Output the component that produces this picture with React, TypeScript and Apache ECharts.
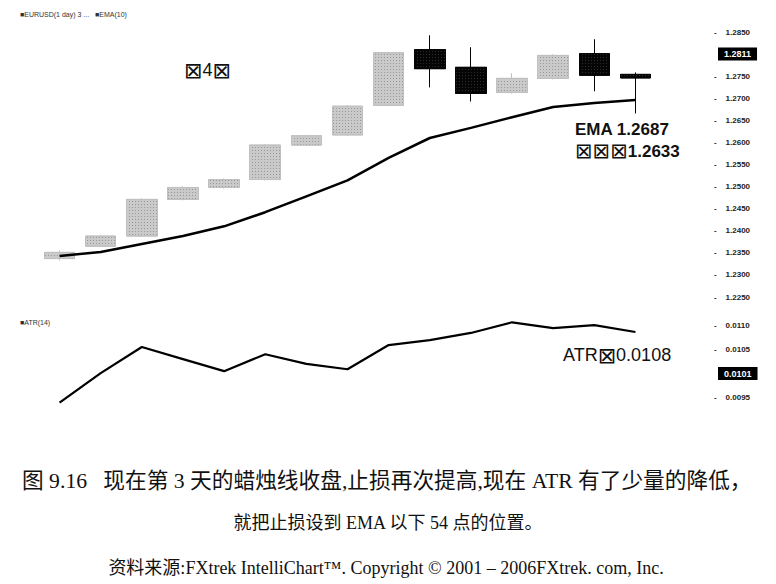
import React, { useEffect, useRef } from "react";
import * as echarts from "echarts";

const days = ["1", "2", "3", "4", "5", "6", "7", "8", "9", "10", "11", "12", "13", "14", "15"];
const opens = [1.2337, 1.2365, 1.2388, 1.2471, 1.2498, 1.2516, 1.2594, 1.2617, 1.2684, 1.2810, 1.2770, 1.2713, 1.2745, 1.2801, 1.2754];
const closes = [1.2351, 1.2388, 1.2471, 1.2498, 1.2516, 1.2594, 1.2615, 1.2682, 1.2803, 1.2767, 1.2711, 1.2745, 1.2797, 1.2752, 1.2746];
const lows = [1.2333, 1.2363, 1.2386, 1.2469, 1.2496, 1.2514, 1.2592, 1.2615, 1.2682, 1.2725, 1.2693, 1.2711, 1.2743, 1.2716, 1.2666];
const highs = [1.2355, 1.2390, 1.2473, 1.2500, 1.2518, 1.2596, 1.2617, 1.2684, 1.2805, 1.2842, 1.2815, 1.2756, 1.2799, 1.2833, 1.2758];
const ema = [1.2343, 1.2352, 1.2370, 1.2388, 1.2410, 1.2442, 1.2478, 1.2514, 1.2565, 1.2610, 1.2633, 1.2657, 1.2680, 1.2689, 1.2696];
const atr = [0.0094, 0.01001, 0.01055, 0.0103, 0.01005, 0.0104, 0.0102, 0.01009, 0.01059, 0.01069, 0.01084, 0.01106, 0.01094, 0.011, 0.01086];

const priceMarker = 1.2811;
const atrMarker = 0.0101;

const priceAxis = { min: 1.225, max: 1.285, interval: 0.005, hidden: 1.28 };
const atrAxis = { min: 0.009, max: 0.0115, interval: 0.0005, shownMin: 0.0095, shownMax: 0.011, hidden: 0.01 };

const legendText = "■EURUSD(1 day) 3 ...   ■EMA(10)";
const atrLegendText = "■ATR(14)";
const box = "⊠";
const dayNoteMid = "4";
const emaNote = "EMA 1.2687";
const stopNoteValue = "1.2633";
const atrNotePrefix = "ATR";
const atrNoteValue = "0.0108";
const caption1 = "图 9.16   现在第 3 天的蜡烛线收盘,止损再次提高,现在 ATR 有了少量的降低，";
const caption2 = "就把止损设到 EMA 以下 54 点的位置。";
const caption3 = "资料来源:FXtrek IntelliChart™. Copyright © 2001 – 2006FXtrek. com, Inc.";

const SANS = "'Liberation Sans', Arial, sans-serif";
const SERIF = "'Liberation Serif', 'Noto Sans CJK SC', serif";
const BOXFONT = "'DejaVu Sans', sans-serif";

const near = (a: number, b: number) => Math.abs(a - b) < 1e-7;

export default function App() {
  const ref = useRef<HTMLDivElement>(null);
  useEffect(() => {
    const chart = echarts.init(ref.current!, null, { renderer: "svg" });
    const axisLabelBase = {
      fontSize: 8,
      fontWeight: "bold" as const,
      color: "#222",
      fontFamily: SANS,
      margin: 58,
    };
    const markLabel = (fmt: string) => ({
      show: true,
      position: "end" as const,
      distance: 62,
      formatter: fmt,
      backgroundColor: "#000",
      color: "#fff",
      fontSize: 9,
      fontWeight: "bold" as const,
      fontFamily: SANS,
      padding: [2, 6, 2, 6],
    });
    const noteRich = (size: number, weight: string) => ({
      b: { fontSize: size + 4, fontFamily: BOXFONT, fill: "#111", color: "#111" },
      t: { fontSize: size, fontWeight: weight, fontFamily: SANS, fill: "#111", color: "#111" },
    });
    chart.setOption({
      animation: false,
      backgroundColor: "#fff",
      grid: [
        { left: 39, width: 617, top: 32, height: 265 },
        { left: 39, width: 617, top: 301, height: 121 },
      ],
      xAxis: [0, 1].map((g) => ({
        type: "category",
        gridIndex: g,
        data: days,
        boundaryGap: true,
        axisLine: { show: false },
        axisTick: { show: false },
        axisLabel: { show: false },
        splitLine: { show: false },
      })),
      yAxis: [
        {
          type: "value",
          gridIndex: 0,
          position: "right",
          min: priceAxis.min,
          max: priceAxis.max,
          interval: priceAxis.interval,
          axisLine: { show: false },
          axisTick: { show: false },
          splitLine: { show: false },
          axisLabel: {
            ...axisLabelBase,
            formatter: (v: number) => (near(v, priceAxis.hidden) ? "" : "-    " + v.toFixed(4)),
          },
        },
        {
          type: "value",
          gridIndex: 1,
          position: "right",
          min: atrAxis.min,
          max: atrAxis.max,
          interval: atrAxis.interval,
          axisLine: { show: false },
          axisTick: { show: false },
          splitLine: { show: false },
          axisLabel: {
            ...axisLabelBase,
            formatter: (v: number) =>
              v < atrAxis.shownMin - 1e-7 || v > atrAxis.shownMax + 1e-7 || near(v, atrAxis.hidden)
                ? ""
                : "-    " + v.toFixed(4),
          },
        },
      ],
      series: [
        {
          type: "candlestick",
          xAxisIndex: 0,
          yAxisIndex: 0,
          barWidth: 31,
          data: days.map((_, i) => [opens[i], closes[i], lows[i], highs[i]]),
          itemStyle: {
            color: "#cacaca",
            color0: "#050505",
            borderColor: "#c0c0c0",
            borderColor0: "#050505",
            borderWidth: 1,
            decal: {
              symbol: "rect",
              symbolSize: 1,
              color: "rgba(90,90,90,0.45)",
              dashArrayX: [1, 2],
              dashArrayY: [1, 2],
            },
          },
          markLine: {
            silent: true,
            symbol: "none",
            z: 10,
            lineStyle: { color: "rgba(0,0,0,0)", width: 0 },
            label: markLabel(priceMarker.toFixed(4)),
            data: [{ yAxis: priceMarker }],
          },
        },
        {
          type: "line",
          xAxisIndex: 0,
          yAxisIndex: 0,
          data: ema,
          symbol: "none",
          lineStyle: { color: "#000", width: 2.5 },
        },
        {
          type: "line",
          xAxisIndex: 1,
          yAxisIndex: 1,
          data: atr,
          symbol: "none",
          lineStyle: { color: "#000", width: 2.2 },
          markLine: {
            silent: true,
            symbol: "none",
            z: 10,
            lineStyle: { color: "rgba(0,0,0,0)", width: 0 },
            label: markLabel(atrMarker.toFixed(4)),
            data: [{ yAxis: atrMarker }],
          },
        },
      ],
      graphic: [
        { type: "text", x: 20, y: 14, style: { text: legendText, fontSize: 7, fontFamily: SANS, fill: "#333", verticalAlign: "middle", textVerticalAlign: "middle" } },
        { type: "text", x: 20, y: 322, style: { text: atrLegendText, fontSize: 7, fontFamily: SANS, fill: "#333", verticalAlign: "middle", textVerticalAlign: "middle" } },
        {
          type: "text", x: 184, y: 70,
          style: {
            text: `{b|${box}}{t|${dayNoteMid}}{b|${box}}`,
            rich: noteRich(18, "normal"),
            verticalAlign: "middle", textVerticalAlign: "middle",
          },
        },
        { type: "text", x: 575, y: 129, style: { text: emaNote, fontSize: 17, fontWeight: "bold", fontFamily: SANS, fill: "#111", verticalAlign: "middle", textVerticalAlign: "middle" } },
        {
          type: "text", x: 575, y: 151,
          style: {
            text: `{b|${box}${box}${box}}{t|${stopNoteValue}}`,
            rich: noteRich(17, "bold"),
            verticalAlign: "middle", textVerticalAlign: "middle",
          },
        },
        {
          type: "text", x: 563, y: 355,
          style: {
            text: `{t|${atrNotePrefix}}{b|${box}}{t|${atrNoteValue}}`,
            rich: noteRich(18, "normal"),
            verticalAlign: "middle", textVerticalAlign: "middle",
          },
        },
        { type: "text", x: 22, y: 481, style: { text: caption1, fontSize: 21.7, fontFamily: SERIF, fill: "#111", verticalAlign: "middle", textVerticalAlign: "middle" } },
        { type: "text", x: 388, y: 523, style: { text: caption2, fontSize: 18, fontFamily: SERIF, fill: "#111", align: "center", textAlign: "center", verticalAlign: "middle", textVerticalAlign: "middle" } },
        { type: "text", x: 386, y: 568, style: { text: caption3, fontSize: 18, fontFamily: SERIF, fill: "#111", align: "center", textAlign: "center", verticalAlign: "middle", textVerticalAlign: "middle" } },
      ],
    });
    return () => chart.dispose();
  }, []);
  return (
    <div
      ref={ref}
      style={{ position: "absolute", left: 0, top: 0, width: 776, height: 584, background: "#fff" }}
    />
  );
}
